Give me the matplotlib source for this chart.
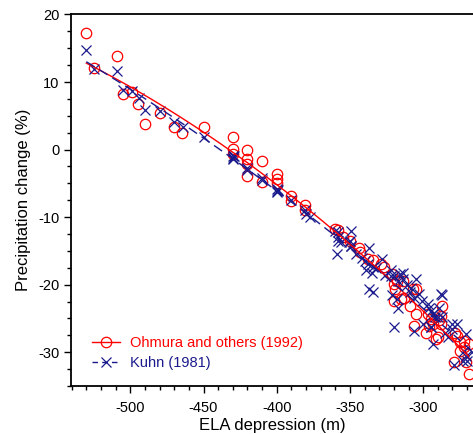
import matplotlib
matplotlib.use("Agg")
import matplotlib.pyplot as plt
import numpy as np
from matplotlib.lines import Line2D
from matplotlib.ticker import MultipleLocator

plt.rcParams["font.family"] = ["Liberation Sans", "DejaVu Sans"]
plt.rcParams["axes.unicode_minus"] = False

# Ohmura and others (1992): ELA depression (m) vs precipitation change (%)
ohmura_x = [
    -530, -509, -525, -505, -499, -495, -490, -480, -470, -465,
    -450, -430, -430, -430, -420, -420, -420, -420, -410, -410,
    -400, -400, -400, -390, -390, -381, -381,
    -360, -358, -355, -350, -344, -343, -338, -334, -329, -327,
    -321, -320, -320, -319, -318, -315, -314, -313, -309, -307,
    -305, -305, -306, -297, -296, -295, -293, -291, -290, -289,
    -288, -288, -287, -278, -277, -275, -275, -272, -272, -269,
    -279, -271, -269, -298,
]
ohmura_y = [
    17.3, 13.8, 12.1, 8.3, 8.5, 6.8, 3.8, 5.4, 3.3, 2.5,
    3.4, 1.9, 0.1, -0.7, 0.0, -1.4, -2.1, -3.9, -1.7, -4.8,
    -3.6, -4.4, -5.0, -6.8, -7.6, -8.2, -8.9,
    -11.7, -11.9, -13.0, -13.6, -14.5, -15.2, -16.2, -16.4, -16.9, -17.4,
    -18.4, -19.9, -22.4, -20.6, -19.4, -22.1, -19.4, -21.9, -23.1, -20.6,
    -24.3, -20.6, -26.1, -24.3, -26.1, -25.1, -25.8, -28.0, -27.8, -25.3,
    -24.6, -25.8, -23.1, -27.1, -27.6, -28.5, -29.8, -28.3, -29.3, -28.8,
    -31.5, -31.5, -33.2, -27.1,
]

# Kuhn (1981)
kuhn_x = [
    -530, -525, -509, -505, -499, -494, -490, -480, -470, -464,
    -450, -430, -430, -430, -429, -420, -420, -410, -410, -400,
    -400, -400, -399, -390, -381, -380, -377,
    -360, -358, -358, -358, -359, -349, -350, -349, -356, -351,
    -349, -337, -328, -339, -335, -334, -322, -322, -337, -334,
    -317, -321, -318, -317, -314, -320, -314, -305, -309, -306,
    -303, -301, -306, -320, -297, -295, -293, -290, -300, -295,
    -288, -287, -296, -289, -292, -287, -295, -285, -283, -280,
    -277, -271, -272, -271, -273, -270, -279, -280, -293, -267,
    -316, -346, -342, -340, -338, -332, -326, -311, -308,
]
kuhn_y = [
    14.8, 12.0, 11.6, 8.8, 8.6, 7.6, 5.9, 5.7, 4.1, 3.4,
    1.8, -1.0, -1.2, -1.4, -0.9, -2.7, -3.0, -4.2, -4.5, -5.9,
    -6.1, -6.3, -6.0, -7.5, -9.0, -9.6, -10.0,
    -12.0, -12.2, -12.9, -13.6, -15.5, -12.0, -13.6, -14.3, -13.7, -13.7,
    -14.2, -14.5, -16.2, -17.9, -18.2, -17.4, -17.9, -18.7, -20.6, -21.1,
    -19.4, -21.6, -22.1, -23.4, -18.2, -18.7, -19.2, -19.2, -21.1, -21.9,
    -21.4, -22.4, -26.8, -26.3, -22.9, -23.9, -24.4, -24.8, -25.8, -26.3,
    -21.4, -21.5, -23.4, -23.4, -24.8, -24.8, -26.3, -27.1, -27.8, -26.6,
    -25.8, -27.3, -29.8, -30.5, -31.3, -31.3, -31.9, -25.8, -28.8, -30.0,
    -18.4, -15.5, -16.0, -16.5, -17.0, -17.5, -18.5, -20.0, -20.5,
]

labels = ["Ohmura and others (1992)", "Kuhn (1981)"]
red = "#ff0000"
navy = "#1a1a8c"

fig = plt.figure(figsize=(4.73, 4.34), dpi=100)
ax = fig.add_axes([0.150, 0.1106, 0.85, 0.856])


def fit_line(x, y):
    coef = np.polyfit(x, y, 2)
    xs = np.linspace(min(x), max(x), 200)
    return xs, np.polyval(coef, xs)


ax.plot(ohmura_x, ohmura_y, ls="none", marker="o", ms=7.5, mfc="none",
        mec=red, mew=0.9)
ax.plot(kuhn_x, kuhn_y, ls="none", marker="x", ms=6.5, mec=navy, mew=0.9)

xs, ys = fit_line(ohmura_x, ohmura_y)
ax.plot(xs, ys, color=red, lw=1.0)
xs, ys = fit_line(kuhn_x, kuhn_y)
ax.plot(xs, ys, color=navy, lw=1.0, dashes=(7, 4))

handles = [
    Line2D([], [], color=red, lw=1.0, marker="o", ms=7.5, mfc="none", mec=red, mew=0.9),
    Line2D([], [], color=navy, lw=1.0, dashes=(4, 3), marker="x", ms=6.5, mec=navy, mew=0.9),
]
leg = ax.legend(handles, labels, loc="lower left", frameon=False, fontsize=10.5,
                handlelength=1.9, handletextpad=0.7, labelspacing=0.4,
                bbox_to_anchor=(0.02, 0.007))
for text, col in zip(leg.get_texts(), [red, navy]):
    text.set_color(col)

ax.set_xlim(-540.5, -266)
ax.set_ylim(-35, 20)
ax.xaxis.set_major_locator(MultipleLocator(50))
ax.xaxis.set_minor_locator(MultipleLocator(10))
ax.yaxis.set_major_locator(MultipleLocator(10))
ax.yaxis.set_minor_locator(MultipleLocator(2.5))
ax.tick_params(which="both", direction="out", labelsize=10.5, width=1.0)
ax.tick_params(which="major", length=5)
ax.tick_params(which="minor", length=3)
ax.tick_params(axis="x", pad=6)
ax.spines["right"].set_visible(False)
for side in ["left", "bottom", "top"]:
    ax.spines[side].set_linewidth(1.3)

ax.set_xlabel("ELA depression (m)", fontsize=12, labelpad=2)
ax.set_ylabel("Precipitation change (%)", fontsize=12, labelpad=5)

fig.savefig("out.png", dpi=100)
